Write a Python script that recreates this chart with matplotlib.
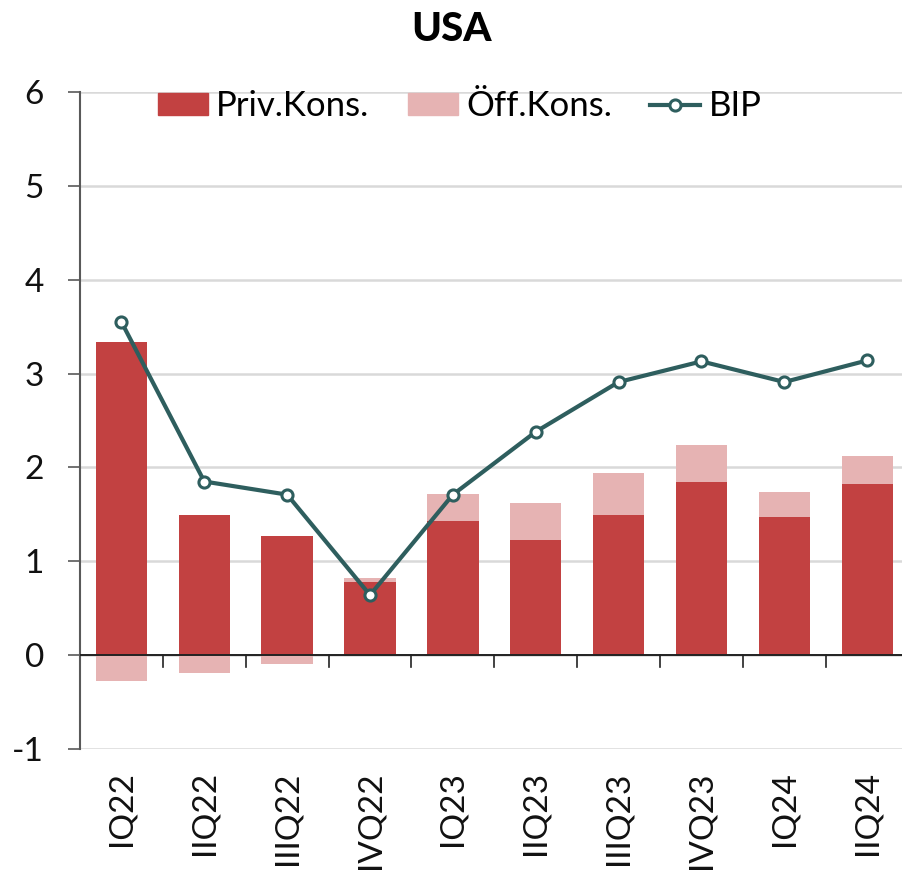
import matplotlib
matplotlib.use("Agg")
import matplotlib.pyplot as plt
import numpy as np
from matplotlib.lines import Line2D
from matplotlib.patches import Patch

categories = ["IQ22", "IIQ22", "IIIQ22", "IVQ22", "IQ23", "IIQ23", "IIIQ23", "IVQ23", "IQ24", "IIQ24"]
priv_kons = [3.34, 1.49, 1.27, 0.78, 1.43, 1.23, 1.49, 1.85, 1.47, 1.82]
oeff_kons = [-0.28, -0.19, -0.09, 0.04, 0.29, 0.39, 0.45, 0.39, 0.27, 0.30]
bip = [3.55, 1.85, 1.71, 0.64, 1.71, 2.38, 2.91, 3.13, 2.91, 3.14]

c_priv = "#C24141"
c_oeff = "#E6B3B3"
c_line = "#2E5E5E"

plt.rcParams['font.family'] = ['Lato', 'DejaVu Sans']

fig = plt.figure(figsize=(9.02, 8.83), dpi=100)
ax = fig.add_axes([80/902, 1-749/883, 1-80/902, (749-92)/883])

x = np.arange(len(categories))
priv = np.array(priv_kons)
oeff = np.array(oeff_kons)
bottoms = np.where(oeff >= 0, priv, 0)
w = 0.62
ax.bar(x, priv, width=w, color=c_priv, zorder=2)
ax.bar(x, oeff, width=w, bottom=bottoms, color=c_oeff, zorder=2)
ax.plot(x, bip, color=c_line, lw=3, marker='o', ms=8, mfc='white', mec=c_line, mew=2.2, zorder=3)

ax.set_xlim(-0.5, 9.42)
ax.set_ylim(-1, 6)
ax.set_yticks(range(-1, 7))
ax.set_yticklabels([str(v) for v in range(-1, 7)], fontsize=24, color="#111111")
ax.yaxis.grid(True, color="#D9D9D9", lw=1.8, zorder=0)
ax.set_axisbelow(True)
ax.tick_params(axis='y', direction='out', length=9, width=1.2, color="#595959", pad=17)

ax.set_xticks(x)
ax.set_xticklabels(categories, rotation=90, fontsize=24, color="#111111")
ax.tick_params(axis='x', length=0, pad=16)
for b in np.arange(0.5, 9, 1):
    ax.plot([b, b], [0, -0.13], color="#222222", lw=1.2, clip_on=False, zorder=4)
ax.axhline(0, color="#222222", lw=1.4, zorder=4)

for s in ['top', 'right', 'bottom']:
    ax.spines[s].set_visible(False)
ax.spines['left'].set_color("#595959")
ax.spines['left'].set_linewidth(1.5)

handles = [Patch(color=c_priv, label="Priv.Kons."),
           Patch(color=c_oeff, label="Öff.Kons."),
           Line2D([0], [0], color=c_line, lw=3, marker='o', ms=8, mfc='white', mec=c_line, mew=2.2, label="BIP")]
ax.legend(handles=handles, loc='center', bbox_to_anchor=(0.462, 0.978), ncol=3, frameon=False,
          fontsize=25, handlelength=1.44, handleheight=0.58, handletextpad=0.25, columnspacing=1.1,
          borderpad=0, borderaxespad=0)

fig.suptitle("USA", fontsize=29, fontweight='black', y=0.987)
fig.savefig("out.png", dpi=100)
